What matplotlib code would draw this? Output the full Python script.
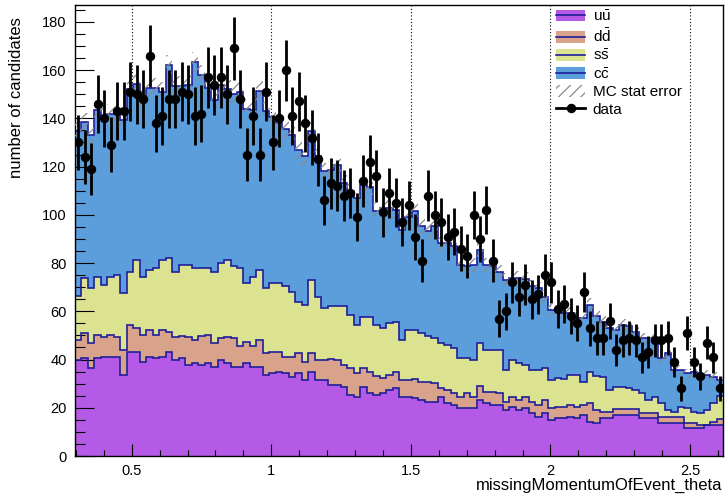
import numpy as np
import matplotlib
matplotlib.use("Agg")
import matplotlib.pyplot as plt
from matplotlib.patches import Patch
from matplotlib.lines import Line2D

plt.rcParams['font.family'] = ['Liberation Sans', 'DejaVu Sans']
plt.rcParams['mathtext.fontset'] = 'custom'
plt.rcParams['mathtext.rm'] = 'Liberation Sans'
plt.rcParams['mathtext.it'] = 'Liberation Sans:italic'
plt.rcParams['hatch.linewidth'] = 0.9

# ---- data ----
x_min, x_max, n_bins = 0.2967, 2.618, 100

# cumulative stack levels (top of each component)
uu_top = [39.8, 40.5, 36.4, 40.5, 41.2, 41.2, 41.0, 33.6, 43.3, 43.3, 39.1, 41.2, 40.5, 41.2, 43.3, 39.8, 40.5, 37.8, 38.4, 37.8,
          38.4, 37.1, 39.8, 38.7, 37.1, 37.1, 38.4, 37.1, 37.1, 33.6, 34.3, 35.0, 34.3, 32.9, 34.3, 31.5, 35.0, 31.5, 31.5, 29.5,
          29.5, 28.8, 25.3, 24.6, 28.8, 26.0, 25.3, 26.0, 27.4, 28.1, 24.6, 24.6, 23.9, 23.2, 22.5, 22.5, 24.6, 21.9, 21.2, 19.8,
          19.8, 19.8, 23.2, 21.9, 21.2, 21.2, 19.1, 20.5, 19.1, 19.8, 17.7, 16.3, 17.7, 14.9, 15.6, 15.6, 16.3, 15.6, 17.0, 14.2,
          13.5, 15.6, 15.6, 17.0, 17.0, 17.0, 17.0, 15.6, 15.6, 15.6, 13.5, 13.5, 13.5, 13.5, 11.5, 11.5, 11.5, 12.9, 12.9, 12.9]
dd_top = [48.1, 50.9, 46.8, 50.2, 49.5, 50.2, 49.5, 44.0, 54.4, 53.0, 50.2, 52.3, 50.2, 52.3, 51.6, 49.5, 49.8, 49.5, 48.1, 49.8,
          50.2, 46.8, 48.8, 49.5, 48.8, 45.6, 47.4, 45.6, 48.1, 42.6, 43.3, 43.3, 41.2, 41.2, 42.6, 39.1, 42.6, 39.8, 39.8, 40.1,
          39.8, 37.8, 36.4, 34.3, 36.4, 35.0, 33.2, 32.2, 33.6, 35.0, 31.5, 31.5, 31.8, 30.8, 30.8, 30.1, 28.1, 27.4, 26.0, 24.6,
          26.0, 24.6, 29.0, 26.7, 26.7, 26.0, 22.5, 24.6, 23.2, 24.6, 22.5, 21.2, 23.2, 19.8, 20.5, 20.5, 21.2, 20.5, 21.2, 21.9,
          19.0, 18.4, 18.4, 19.4, 19.4, 19.4, 19.4, 17.7, 17.7, 17.7, 16.3, 16.3, 16.3, 16.3, 13.5, 13.5, 12.9, 12.9, 14.2, 15.2]
ss_top = [66.4, 73.7, 69.6, 74.4, 71.0, 74.4, 75.1, 67.5, 76.5, 81.1, 74.4, 77.2, 77.9, 81.3, 82.0, 76.5, 79.3, 79.3, 77.9, 77.9,
          77.9, 76.5, 79.9, 81.3, 78.6, 77.9, 71.6, 74.4, 77.2, 69.6, 71.9, 71.6, 70.3, 67.8, 64.0, 62.7, 73.0, 66.1, 61.3, 62.2,
          62.2, 62.0, 58.5, 54.4, 57.8, 57.8, 54.4, 53.0, 55.1, 55.7, 48.1, 52.3, 52.3, 50.9, 49.8, 48.8, 46.8, 46.1, 44.7, 40.5,
          40.5, 39.8, 46.8, 44.0, 44.0, 43.9, 35.7, 39.6, 38.5, 37.8, 35.7, 35.7, 36.4, 31.5, 32.2, 31.8, 33.6, 33.6, 30.8, 35.0,
          33.0, 32.9, 27.4, 28.8, 28.8, 28.1, 27.4, 26.0, 23.2, 24.6, 21.9, 19.1, 18.4, 20.5, 19.8, 18.4, 17.7, 19.0, 22.0, 25.0]
cc_top = [134.6, 138.5, 133.2, 143.6, 141.0, 142.0, 142.0, 139.5, 152.0, 154.4, 149.0, 152.5, 152.6, 151.0, 162.2, 153.5, 153.5, 154.0, 163.2, 158.0,
          152.6, 147.7, 154.0, 152.0, 150.0, 151.0, 144.0, 143.5, 151.3, 143.0, 140.5, 138.0, 135.5, 133.2, 127.0, 124.2, 134.6, 124.2, 118.0, 118.7,
          120.7, 113.1, 109.7, 106.9, 112.4, 111.7, 101.4, 102.8, 102.8, 102.1, 93.8, 99.3, 101.4, 95.2, 93.1, 95.2, 88.2, 88.2, 86.9, 79.3,
          78.6, 79.3, 85.5, 79.3, 78.6, 76.5, 73.0, 73.7, 73.7, 73.3, 70.3, 69.6, 66.1, 60.6, 59.9, 59.2, 59.2, 57.1, 57.1, 62.7,
          58.0, 55.7, 53.0, 52.3, 54.4, 53.7, 51.6, 48.8, 48.8, 48.1, 40.5, 42.6, 35.7, 35.7, 34.3, 35.0, 32.2, 33.6, 32.9, 31.5]
data = [130, 124, 119, 146, 140, 129, 143, 143, 151, 150, 148, 166, 138, 141, 148, 148, 151, 150, 141, 142,
        157, 154, 157, 150, 169, 148, 125, 141, 125, 151, 130, 140, 160, 141, 147, 138, 132, 123, 106, 113,
        112, 108, 109, 99, 114, 122, 116, 101, 109, 105, 97, 104, 91, 81, 108, 100, 97, 91, 93, 86,
        83, 100, 90, 102, 81, 57, 60, 72, 66, 71, 65, 67, 75, 72, 61, 63, 58, 55, 68, 53,
        49, 49, 56, 44, 48, 49, 48, 41, 43, 48, 48, 49, 39, 28, 51, 39, 33, 47, 41, 28]

labels = [r'$\mathrm{u\bar{u}}$', r'$\mathrm{d\bar{d}}$', r'$\mathrm{s\bar{s}}$', r'$\mathrm{c\bar{c}}$']
x_label = 'missingMomentumOfEvent_theta'
y_label = 'number of candidates'

# ---- style ----
col_uu = '#b45ae6'
col_dd = '#d9a38b'
col_ss = '#dce390'
col_cc = '#5b9edb'
col_line = '#1f1f9a'
col_hatch = '#8a8a8a'

edges = np.linspace(x_min, x_max, n_bins + 1)
centers = 0.5 * (edges[:-1] + edges[1:])
total = np.array(cc_top)
mc_err = 0.33 * np.sqrt(total)
d = np.array(data, dtype=float)

fig = plt.figure(figsize=(7.25, 4.97), dpi=100)
ax = fig.add_axes([75 / 725, 41 / 497, 648 / 725, 451 / 497])

for x in [0.5, 1.0, 1.5, 2.0, 2.5]:
    ax.axvline(x, color='black', ls=(0, (1, 2)), lw=0.8, zorder=0.5)

for top, col in [(cc_top, col_cc), (ss_top, col_ss), (dd_top, col_dd), (uu_top, col_uu)]:
    ax.stairs(top, edges, baseline=0, fill=True, facecolor=col, edgecolor='none', zorder=1)
for top in [cc_top, ss_top, dd_top, uu_top]:
    ax.stairs(top, edges, baseline=None, color=col_line, lw=1.2, zorder=2)

ax.stairs(total + mc_err, edges, baseline=total - mc_err, fill=True, facecolor='none',
          edgecolor=col_hatch, hatch='///', lw=0, zorder=3)

ax.errorbar(centers, d, yerr=np.sqrt(d), fmt='o', color='black', ms=5.8,
            elinewidth=2.0, capsize=0, zorder=4)

ax.set_xlim(x_min, x_max)
ax.set_ylim(0, 187)
ax.set_xticks([0.5, 1.0, 1.5, 2.0, 2.5])
ax.set_xticklabels(['0.5', '1', '1.5', '2', '2.5'])
ax.set_xticks(np.arange(0.3, 2.62, 0.1), minor=True)
ax.set_yticks(np.arange(0, 181, 20))
ax.set_yticks(np.arange(0, 187, 5), minor=True)
ax.tick_params(axis='both', which='both', direction='in', top=False, right=False,
               labelsize=10.5, width=0.8)
ax.tick_params(axis='y', which='major', length=14, pad=6)
ax.tick_params(axis='y', which='minor', length=7)
ax.tick_params(axis='x', which='major', length=9, pad=6)
ax.tick_params(axis='x', which='minor', length=4.5)
for s in ax.spines.values():
    s.set_linewidth(1.0)

fig.text(722 / 725, 1 - 485 / 497, x_label, ha='right', va='center', fontsize=12)
fig.text(17 / 725, 1 - 17 / 497, y_label, ha='center', va='top', rotation=90, fontsize=12)

def hnd(col):
    return (Patch(facecolor=col, edgecolor='none'), Line2D([], [], color=col_line, lw=1.2))

handles = [hnd(col_uu), hnd(col_dd), hnd(col_ss), hnd(col_cc),
           Patch(facecolor='white', edgecolor=col_hatch, hatch='///', lw=0),
           Line2D([], [], color='black', marker='o', ms=5.8, lw=2)]
leg = fig.legend(handles, labels + ['MC stat error', 'data'], loc='upper left',
                 bbox_to_anchor=(556 / 725, 1 - 9 / 497), frameon=False, fontsize=11,
                 handlelength=1.9, handleheight=0.8, handletextpad=0.5,
                 labelspacing=0.22, borderpad=0, borderaxespad=0)

fig.savefig('out.png', dpi=100)
